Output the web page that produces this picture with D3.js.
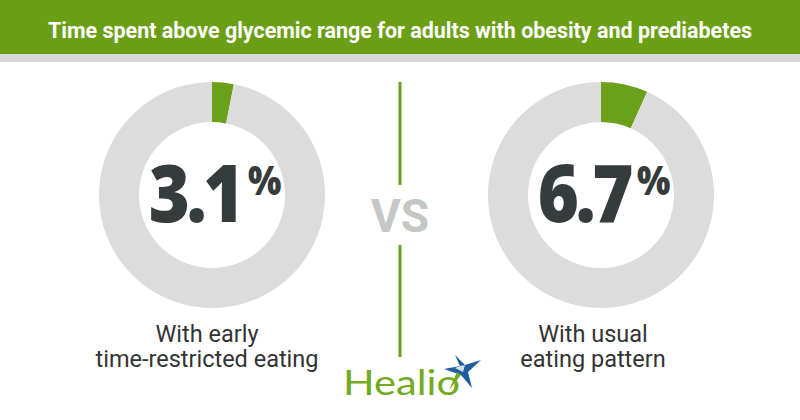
<!DOCTYPE html>
<html><head><meta charset="utf-8">
<script src="https://cdn.jsdelivr.net/npm/d3@7"></script>
<style>html,body{margin:0;padding:0;background:#fff;}svg{display:block;}</style>
</head><body>
<svg id="c" width="800" height="420"></svg>
<script>
const title = "Time spent above glycemic range for adults with obesity and prediabetes";
const groups = ["With early eating restriction", "With usual eating pattern"];
const values = [3.1, 6.7];
const labelLines = [["With early", "time-restricted eating"], ["With usual", "eating pattern"]];
const vsLabel = "VS";
const brand = "Healio";

const GREEN = "#6ba01a", RING = "#dcdcdc", DARK = "#363b3c";
const svg = d3.select("#c");

// header
svg.append("rect").attr("x",0).attr("y",0).attr("width",800).attr("height",54).attr("fill","#6a9e14");
svg.append("rect").attr("x",0).attr("y",54).attr("width",800).attr("height",8).attr("fill","#d9d9d9");
svg.append("text").attr("x",400).attr("y",38).attr("text-anchor","middle")
  .attr("font-family","Roboto, 'Liberation Sans', sans-serif").attr("font-weight",700)
  .attr("font-size",22).attr("fill","#fff")
  .attr("textLength",704).attr("lengthAdjust","spacingAndGlyphs").text(title);

const centersX = d3.scaleOrdinal().domain(groups).range([212, 601]);
const labelX = d3.scaleOrdinal().domain(groups).range([207, 593]);
const cy = 195;
const pie = d3.pie().sort(null).value(d => d);
const arc = d3.arc().innerRadius(73).outerRadius(113);

groups.forEach((g, i) => {
  const gg = svg.append("g").attr("transform", `translate(${centersX(g)},${cy})`);
  gg.selectAll("path").data(pie([values[i], 100 - values[i]])).join("path")
    .attr("d", arc).attr("fill", (d, j) => j === 0 ? GREEN : RING);
  const t = gg.append("text").attr("transform","translate(3,27) scale(0.88,1)").attr("text-anchor","middle")
    .attr("font-family","'Open Sans', Roboto, sans-serif").attr("font-weight",800).attr("fill",DARK);
  t.append("tspan").attr("font-size",80).attr("letter-spacing",-4).text(d3.format(".1f")(values[i]));
  t.append("tspan").attr("font-size",40).attr("dx",8).attr("dy",-27).text("%");
  const lt = svg.append("text").attr("text-anchor","middle")
    .attr("font-family","Roboto, sans-serif").attr("font-size",23.5).attr("fill","#333");
  labelLines[i].forEach((line, k) => {
    lt.append("tspan").attr("x", labelX(g)).attr("y", 342 + k * 25).text(line);
  });
});

// divider
svg.append("line").attr("x1",400).attr("x2",400).attr("y1",82).attr("y2",185).attr("stroke",GREEN).attr("stroke-width",3);
svg.append("line").attr("x1",400).attr("x2",400).attr("y1",245).attr("y2",357).attr("stroke",GREEN).attr("stroke-width",3);
svg.append("text").attr("x",400).attr("y",232).attr("text-anchor","middle")
  .attr("font-family","Roboto, sans-serif").attr("font-weight",700).attr("font-size",46)
  .attr("fill","#c6c6c6").text(vsLabel);

// logo
svg.append("text").attr("x",343).attr("y",395).attr("font-family","Lato, 'Open Sans', sans-serif")
  .attr("font-size",34).attr("fill","#72aa22").attr("textLength",117).attr("lengthAdjust","spacingAndGlyphs").text(brand);
const star = svg.append("g");
star.append("path").attr("d","M444,369 L460,366 L455,355 L465,365 L481,360 L468,372 L472,388 L461,375 Z").attr("fill","#1f5c9c");
star.append("path").attr("d","M461,375 L449,390 L457,372 Z").attr("fill","#72aa22");
star.append("path").attr("d","M455,368 L460,366 L465,365 L463,372 Z").attr("fill","#ffffff").attr("opacity",0.8);
</script>
</body></html>
